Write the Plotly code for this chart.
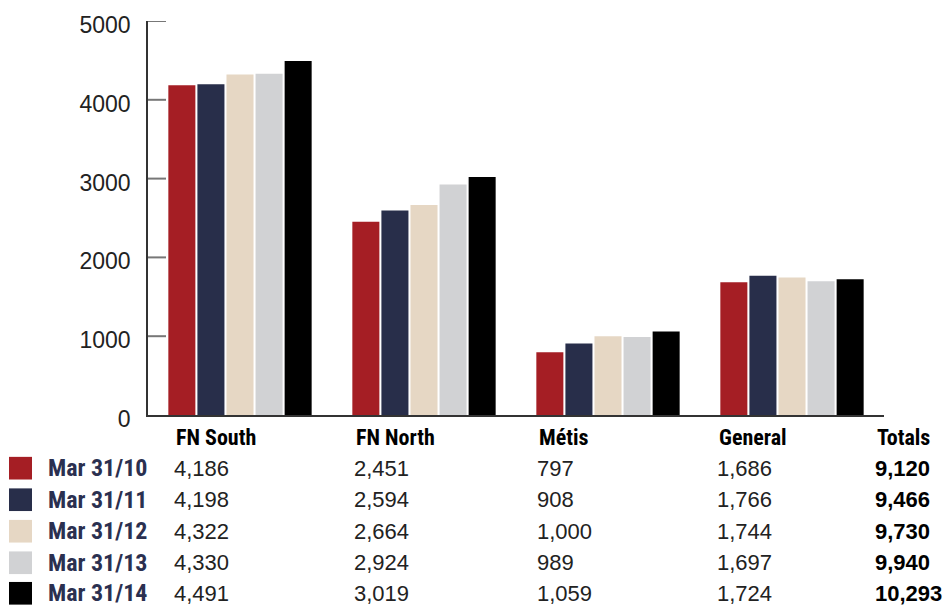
import plotly.graph_objects as go

categories = ["FN South", "FN North", "Métis", "General"]
series_names = ["Mar 31/10", "Mar 31/11", "Mar 31/12", "Mar 31/13", "Mar 31/14"]
values_2010 = [4186, 2451, 797, 1686]
values_2011 = [4198, 2594, 908, 1766]
values_2012 = [4322, 2664, 1000, 1744]
values_2013 = [4330, 2924, 989, 1697]
values_2014 = [4491, 3019, 1059, 1724]
totals = [9120, 9466, 9730, 9940, 10293]
y_ticks = [0, 1000, 2000, 3000, 4000, 5000]

series_values = [values_2010, values_2011, values_2012, values_2013, values_2014]
colors = ["#A51E24", "#282E4A", "#E6D7C4", "#D1D2D4", "#000000"]

W, H = 950, 612
L, R, T, B = 148, 884, 15, 415

fig = go.Figure()
for name, vals, c in zip(series_names, series_values, colors):
    fig.add_trace(go.Bar(x=categories, y=vals, name=name, marker=dict(color=c, line=dict(width=0)),
                         showlegend=False, hoverinfo="x+y+name"))

def px(x):
    return (x - L) / (R - L)

def py(y):
    return (B - y) / (B - T)

annotations = []
shapes = []
col_x = [174, 354, 537, 717]
header_y = 438
row_y = [469, 501, 533, 565, 596]
cond_font = "Liberation Sans Narrow, Roboto Condensed, Arial Narrow, Liberation Sans"
reg_font = "Liberation Sans, Arial, sans-serif"

# inside tick marks on the y axis, placed through the y scale
for tv in y_ticks[1:]:
    shapes.append(dict(type="line", xref="paper", yref="y", x0=0, x1=px(L + 18), y0=tv, y1=tv,
                       line=dict(color="#777", width=2), layer="above"))

for cat, cx in zip(categories + ["Totals"], col_x + [875]):
    annotations.append(dict(text=f"<b>{cat}</b>", x=px(cx), y=py(header_y), xref="paper", yref="paper",
                            xanchor="left", yanchor="middle", showarrow=False,
                            font=dict(family=cond_font, size=22, color="#000")))

for i, (name, vals, c) in enumerate(zip(series_names, series_values, colors)):
    ry = row_y[i]
    shapes.append(dict(type="rect", xref="paper", yref="paper",
                       x0=px(9), x1=px(32), y0=py(ry + 11.5), y1=py(ry - 11.5),
                       fillcolor=c, line=dict(width=0)))
    annotations.append(dict(text=f"<b>{name}</b>", x=px(46), y=py(ry), xref="paper", yref="paper",
                            xanchor="left", yanchor="middle", showarrow=False,
                            font=dict(family=cond_font, size=24, color="#2B3050")))
    for v, cx in zip(vals, col_x):
        annotations.append(dict(text=f"{v:,}", x=px(cx - 2), y=py(ry), xref="paper", yref="paper",
                                xanchor="left", yanchor="middle", showarrow=False,
                                font=dict(family=reg_font, size=22, color="#222")))
    annotations.append(dict(text=f"<b>{totals[i]:,}</b>", x=px(873), y=py(ry), xref="paper", yref="paper",
                            xanchor="left", yanchor="middle", showarrow=False,
                            font=dict(family=reg_font, size=22, color="#000")))

fig.update_layout(
    width=W, height=H,
    margin=dict(l=L, r=W - R, t=T, b=H - B, pad=0),
    paper_bgcolor="white", plot_bgcolor="white",
    barmode="group", bargap=0.21, bargroupgap=0.07,
    xaxis=dict(range=[-0.5, 3.5], showticklabels=False, ticks="", showgrid=False,
               showline=True, linecolor="#333", linewidth=1.5, zeroline=False, fixedrange=True),
    yaxis=dict(range=[0, 5000], tickvals=y_ticks, ticks="", showgrid=False, showline=True,
               linecolor="#333", linewidth=1.5, zeroline=False, ticklabelstandoff=11,
               ticklabelshift=4,
               tickfont=dict(family=reg_font, size=23, color="#222")),
    annotations=annotations, shapes=shapes,
)

fig.write_html("out.html", config={"displayModeBar": False},
               post_script="document.body.style.margin='0';document.body.style.overflow='hidden';")
